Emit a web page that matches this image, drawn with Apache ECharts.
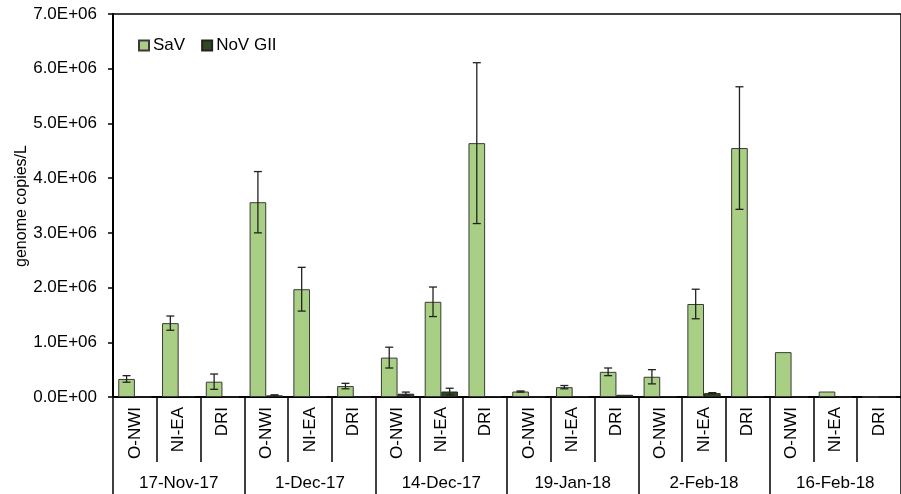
<!DOCTYPE html>
<html><head><meta charset="utf-8">
<script src="https://cdn.jsdelivr.net/npm/echarts@6/dist/echarts.min.js"></script>
<style>html,body{margin:0;padding:0;background:#fff}#c{width:901px;height:494px}</style>
</head><body><div id="c"></div>
<script>
var sites = ['O-NWI','NI-EA','DRI'];
var dates = ['17-Nov-17','1-Dec-17','14-Dec-17','19-Jan-18','2-Feb-18','16-Feb-18'];
var savValues = [0.33e6,1.35e6,0.28e6, 3.56e6,1.97e6,0.20e6, 0.72e6,1.74e6,4.64e6, 0.10e6,0.18e6,0.46e6, 0.37e6,1.70e6,4.55e6, 0.82e6,0.10e6,0];
var savErrors = [0.06e6,0.13e6,0.14e6, 0.56e6,0.40e6,0.05e6, 0.19e6,0.27e6,1.47e6, 0.01e6,0.03e6,0.07e6, 0.13e6,0.27e6,1.12e6, 0,0,0];
var novValues = [0,0.01e6,0, 0.03e6,0.01e6,0, 0.06e6,0.10e6,0.01e6, 0.005e6,0.01e6,0.04e6, 0.01e6,0.07e6,0.01e6, 0,0,0];
var novErrors = [0,0,0, 0.01e6,0,0, 0.03e6,0.06e6,0, 0,0,0, 0,0.01e6,0, 0,0,0];
var yTickLabels = ['0.0E+00','1.0E+06','2.0E+06','3.0E+06','4.0E+06','5.0E+06','6.0E+06','7.0E+06'];
var yTitle = 'genome copies/L';

var categories = [];
dates.forEach(function(d){ sites.forEach(function(s){ categories.push(s); }); });

var FONT = 'Liberation Sans, Arial, sans-serif';
var BAR_FRAC = 0.38;
var savColor = '#a9cf84';
var novColor = '#2f4a1f';

function errSeries(values, errors, side) {
  var data = values.map(function(v,i){ return [i, v, errors[i]]; });
  return {
    type: 'custom', xAxisIndex: 0, yAxisIndex: 0, silent: true, z: 5,
    data: data,
    renderItem: function(params, api) {
      var idx = api.value(0), v = api.value(1), e = api.value(2);
      if (!e) return null;
      var bw = api.size([1,0])[0] * BAR_FRAC;
      var c = api.coord([idx, v]);
      var x = c[0] + side * bw / 2;
      var top = api.coord([idx, v + e])[1];
      var bot = api.coord([idx, Math.max(v - e, 0)])[1];
      var cap = 4;
      var st = {stroke: '#222', lineWidth: 1.3};
      return {type: 'group', children: [
        {type: 'line', shape: {x1: x, y1: top, x2: x, y2: bot}, style: st},
        {type: 'line', shape: {x1: x - cap, y1: top, x2: x + cap, y2: top}, style: st},
        {type: 'line', shape: {x1: x - cap, y1: bot, x2: x + cap, y2: bot}, style: st}
      ]};
    }
  };
}

var chart = echarts.init(document.getElementById('c'), null, {renderer: 'canvas'});
chart.setOption({
  animation: false,
  backgroundColor: '#fff',
  textStyle: {fontFamily: FONT},
  grid: {left: 113, top: 14, width: 800, bottom: 97, show: true, borderColor: '#000', borderWidth: 1.5},
  legend: {
    left: 133, top: 32, itemWidth: 10, itemHeight: 10, itemGap: 16, icon: 'rect',
    textStyle: {fontFamily: FONT, fontSize: 17, color: '#000', padding: [0,0,0,-1]},
    data: ['SaV','NoV GII']
  },
  graphic: [{
    type: 'text', x: 22, y: 206, rotation: Math.PI / 2, silent: true,
    style: {text: yTitle, font: '16px ' + FONT, fill: '#000', align: 'center', verticalAlign: 'middle'}
  }],
  xAxis: [
    {
      type: 'category', data: categories, position: 'bottom',
      axisLine: {show: true, lineStyle: {color: '#000', width: 2}},
      axisTick: {show: true, interval: 0, length: 65, lineStyle: {color: '#000', width: 1.5}},
      axisLabel: {interval: 0, rotate: 90, margin: 10, fontSize: 17, color: '#000', fontFamily: FONT},
      splitLine: {show: false}
    },
    {
      type: 'category', data: dates, position: 'bottom', offset: 0,
      axisLine: {show: false},
      axisTick: {show: true, interval: 0, length: 100, lineStyle: {color: '#000', width: 1.5}},
      axisLabel: {interval: 0, margin: 78, fontSize: 17, color: '#000', fontFamily: FONT},
      splitLine: {show: false}
    }
  ],
  yAxis: {
    type: 'value', min: 0, max: 7e6, interval: 1e6,
    axisLine: {show: true, lineStyle: {color: '#000', width: 2}},
    axisTick: {show: true, length: 5, lineStyle: {color: '#000', width: 1.5}},
    axisLabel: {fontSize: 17, color: '#000', margin: 16, fontFamily: FONT,
      formatter: function(v){ return yTickLabels[Math.round(v/1e6)]; }},
    splitLine: {show: false}
  },
  series: [
    {name: 'SaV', type: 'bar', data: savValues, barWidth: (BAR_FRAC*100)+'%', barGap: '0%',
     itemStyle: {color: savColor, borderColor: '#3a3a3a', borderWidth: 1}},
    {name: 'NoV GII', type: 'bar', data: novValues, barWidth: (BAR_FRAC*100)+'%', barGap: '0%',
     itemStyle: {color: novColor, borderColor: '#222', borderWidth: 1}},
    errSeries(savValues, savErrors, -1),
    errSeries(novValues, novErrors, 1)
  ]
});
</script></body></html>
